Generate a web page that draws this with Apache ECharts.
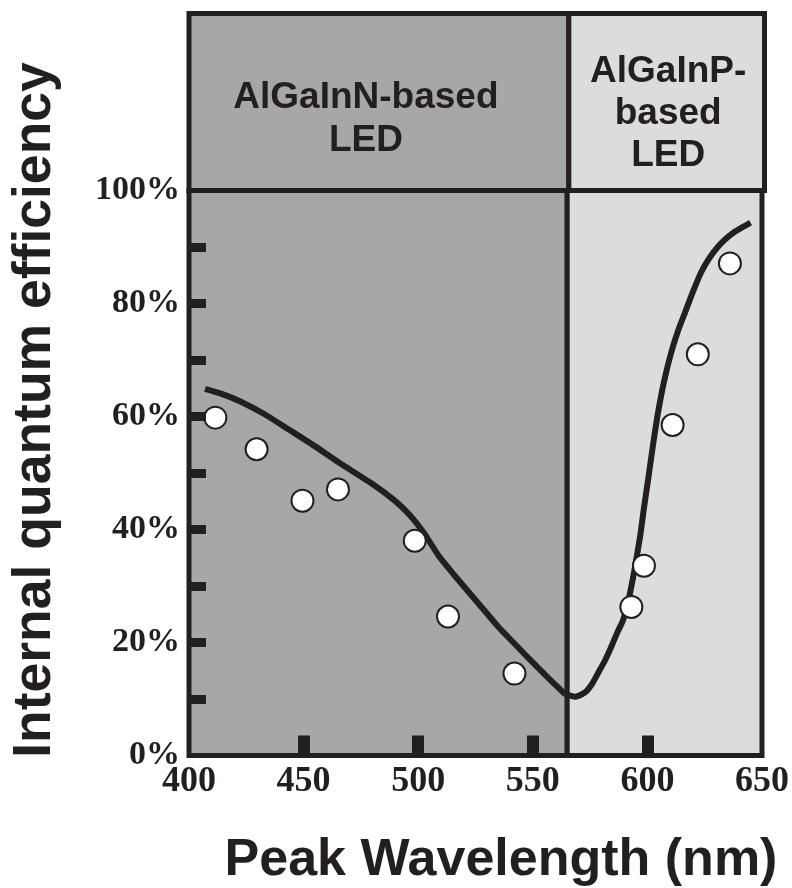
<!DOCTYPE html>
<html>
<head>
<meta charset="utf-8">
<script src="https://cdn.jsdelivr.net/npm/echarts@6/dist/echarts.min.js"></script>
<style>
html,body{margin:0;padding:0;background:#fff;}
#chart{width:792px;height:888px;}
</style>
</head>
<body>
<div id="chart"></div>
<script>
// ---- data ----
var xTickLabels = [400, 450, 500, 550, 600, 650];
var yTickLabels = [0, 20, 40, 60, 80, 100];
var xMinorTicks = [450, 500, 550, 600];
var yMinorTicks = [10, 20, 30, 40, 50, 60, 70, 80, 90];
var dividerWavelength = 565;
var regionNames = ['AlGaInN-based\nLED', 'AlGaInP-\nbased\nLED'];

// measured points (wavelength nm, internal quantum efficiency %)
var pointWavelength = [411.5, 429.5, 449.5, 465, 498.5, 513, 542, 593, 598.5, 611, 622, 636];
var pointEfficiency = [59.8, 54.2, 45.1, 47.1, 38.0, 24.6, 14.5, 26.3, 33.6, 58.5, 71.0, 87.1];

// fitted curve
var curveWavelength = [407.0, 414.3, 422.2, 433.0, 443.9, 454.7, 465.6, 479.9, 489.5, 496.0, 502.5, 509.0, 515.6, 522.1, 528.6, 535.1, 542.5, 549.4, 556.8, 561.2, 564.2, 568.6, 572.9, 575.9, 578.5, 581.6, 584.2, 586.8, 589.4, 591.6, 594.2, 596.8, 598.5, 600.3, 602.4, 604.6, 607.2, 610.3, 613.3, 616.3, 619.8, 623.3, 626.8, 630.7, 634.1, 638.1, 641.5, 645.0];
var curveEfficiency = [64.9, 64.0, 62.7, 60.4, 57.6, 54.8, 51.8, 48.1, 45.2, 42.7, 39.4, 35.3, 32.0, 28.9, 25.8, 22.7, 19.6, 16.7, 13.7, 12.0, 10.9, 10.4, 11.2, 12.7, 14.6, 16.9, 19.2, 21.7, 24.0, 27.2, 32.5, 38.7, 43.8, 48.8, 54.8, 60.6, 66.1, 71.2, 75.1, 78.3, 82.0, 85.4, 87.9, 90.0, 91.4, 92.7, 93.5, 94.3];

var dark = '#231f20';
var leftGray = '#a7a7a7';
var rightGray = '#dcdcdc';

var curveData = curveWavelength.map(function (w, i) { return [w, curveEfficiency[i]]; });
var pointData = pointWavelength.map(function (w, i) { return [w, pointEfficiency[i]]; });

var xMin = xTickLabels[0], xMax = xTickLabels[xTickLabels.length - 1];

var chart = echarts.init(document.getElementById('chart'), null, {renderer: 'canvas'});
chart.setOption({
  animation: false,
  backgroundColor: '#ffffff',
  grid: [
    {left: 189, right: 27.5, top: 190.5, bottom: 132.5},
    {left: 189, right: 27.5, top: 13.5, height: 177}
  ],
  xAxis: [
    {
      gridIndex: 0, type: 'value', min: xMin, max: xMax, interval: 50, z: 10,
      axisLine: {show: false},
      splitLine: {show: false},
      axisTick: {show: true, inside: true, length: 20, customValues: xMinorTicks,
        lineStyle: {color: dark, width: 12}},
      axisLabel: {color: dark, fontFamily: 'Liberation Serif', fontWeight: 'bold', fontSize: 36, margin: 8}
    },
    {gridIndex: 1, type: 'value', min: xMin, max: xMax, show: false}
  ],
  yAxis: [
    {
      gridIndex: 0, type: 'value', min: 0, max: 100, interval: 20, z: 10,
      axisLine: {show: false},
      splitLine: {show: false},
      axisTick: {show: true, inside: true, length: 17, customValues: yMinorTicks,
        lineStyle: {color: dark, width: 9}},
      axisLabel: {formatter: '{value}%', color: dark, fontFamily: 'Liberation Serif', fontWeight: 'bold', fontSize: 34, margin: 9}
    },
    {gridIndex: 1, type: 'value', min: 0, max: 1, show: false}
  ],
  series: [
    {
      type: 'line', xAxisIndex: 0, yAxisIndex: 0,
      data: curveData, smooth: 0.2, symbol: 'none', z: 2,
      lineStyle: {color: dark, width: 6},
      markArea: {
        silent: true,
        data: [
          [{xAxis: xMin, itemStyle: {color: leftGray, borderColor: dark, borderWidth: 5}}, {xAxis: dividerWavelength}],
          [{xAxis: dividerWavelength, itemStyle: {color: rightGray, borderColor: dark, borderWidth: 5}}, {xAxis: xMax}]
        ]
      }
    },
    {
      type: 'scatter', xAxisIndex: 0, yAxisIndex: 0, z: 3,
      data: pointData, symbol: 'circle', symbolSize: 22,
      itemStyle: {color: '#ffffff', borderColor: dark, borderWidth: 2, opacity: 1}
    },
    {
      type: 'line', xAxisIndex: 1, yAxisIndex: 1, data: [], symbol: 'none',
      markArea: {
        silent: true,
        label: {show: true, position: 'inside', color: dark, fontFamily: 'Liberation Sans', fontWeight: 'bold', fontSize: 37},
        data: [
          [{name: regionNames[0], xAxis: xMin,
            itemStyle: {color: leftGray, borderColor: dark, borderWidth: 5},
            label: {lineHeight: 43, offset: [-13, 17]}}, {xAxis: dividerWavelength}],
          [{name: regionNames[1], xAxis: dividerWavelength,
            itemStyle: {color: rightGray, borderColor: dark, borderWidth: 5},
            label: {lineHeight: 42, offset: [1.5, 12]}}, {xAxis: xMax}]
        ]
      }
    }
  ],
  graphic: [
    {type: 'text', x: 35, y: 410, rotation: Math.PI / 2,
      style: {text: 'Internal quantum efficiency', fill: dark, font: 'bold 53.5px "Liberation Sans"', align: 'center', verticalAlign: 'middle'}},
    {type: 'text', x: 501, y: 861,
      style: {text: 'Peak Wavelength (nm)', fill: dark, font: 'bold 52px "Liberation Sans"', align: 'center', verticalAlign: 'middle'}}
  ]
});
</script>
</body>
</html>
